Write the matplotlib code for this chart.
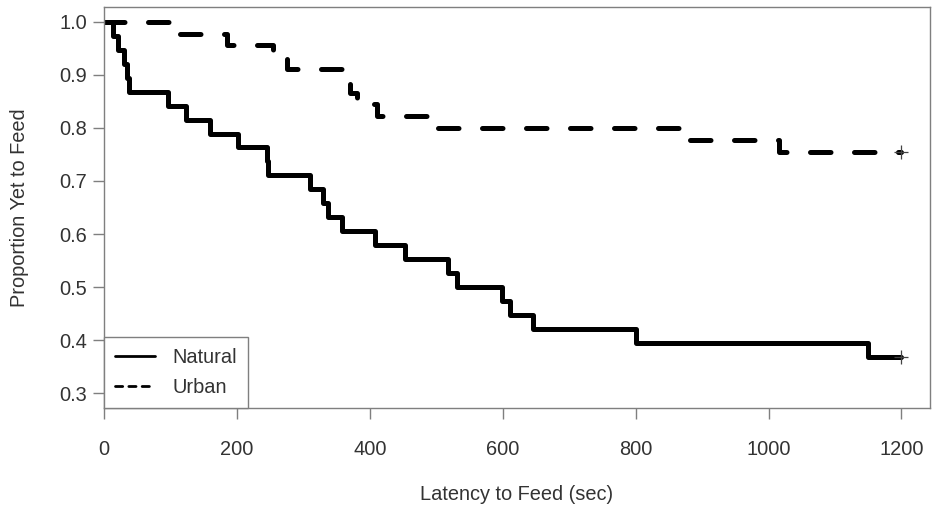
import numpy as np
import matplotlib.pyplot as plt

plt.rcParams['font.family'] = ['Liberation Sans', 'DejaVu Sans']

# Kaplan-Meier event times (sec) and survival after each event
natural_t = [14, 21, 30, 35, 37, 96, 123, 160, 202, 245, 247, 310, 330, 337,
             358, 408, 453, 518, 531, 599, 611, 646, 800, 1149]
natural_n = 38
urban_t = [110, 185, 254, 276, 360, 370, 380, 411, 494, 867, 1015]
urban_n = 45
end_time = 1200  # censored at end of trial

xticks = [0, 200, 400, 600, 800, 1000, 1200]
yticks = [0.3, 0.4, 0.5, 0.6, 0.7, 0.8, 0.9, 1.0]


def km_curve(times, n):
    surv = [1.0 - (i + 1) / n for i in range(len(times))]
    x = [0] + list(times) + [end_time]
    y = [1.0] + surv + [surv[-1]]
    return x, y


grey = '#7f7f7f'
txt = '#333333'
fs = 14.4

fig = plt.figure(figsize=(9.32, 5.12), dpi=100)
ax = fig.add_axes([0.1116, 0.2031, 0.8863, 0.7832])

nx, ny = km_curve(natural_t, natural_n)
ux, uy = km_curve(urban_t, urban_n)

ax.step(nx, ny, where='post', color='black', lw=3.6, solid_joinstyle='round',
        solid_capstyle='round', label='Natural')
ax.step(ux, uy, where='post', color='black', lw=3.6, linestyle=(0, (4.1, 4.7)),
        dash_capstyle='round', dash_joinstyle='round', label='Urban')

# censoring marks
ax.plot([end_time, end_time], [ny[-1], uy[-1]], linestyle='none', marker='+',
        markersize=10, mew=0.9, color='#444444', zorder=5)

ax.set_xlim(0, 1243)
ax.set_ylim(0.272, 1.028)
ax.set_xticks(xticks)
ax.set_xticklabels([str(v) for v in xticks])
ax.set_yticks(yticks)
ax.set_yticklabels(['%.1f' % v for v in yticks])

for s in ax.spines.values():
    s.set_color(grey)
    s.set_linewidth(1.0)
ax.tick_params(colors=grey, labelcolor=txt, labelsize=fs, length=8, width=1.0)
ax.tick_params(axis='x', pad=15)
ax.tick_params(axis='y', pad=4)

ax.set_xlabel('Latency to Feed (sec)', fontsize=fs, color=txt, labelpad=19)
ax.set_ylabel('Proportion Yet to Feed', fontsize=fs, color=txt, labelpad=22)

leg = ax.legend(loc='lower left', bbox_to_anchor=(0, 0), borderaxespad=0,
                fancybox=False, edgecolor=grey, fontsize=fs, handlelength=2.0,
                handletextpad=0.85, borderpad=0.55, labelspacing=0.55,
                framealpha=1)
leg.get_frame().set_linewidth(1.0)
for h in leg.get_lines():
    h.set_linewidth(2.0)
    if h.get_linestyle() != '-':
        h.set_dashes((2.6, 2.2))
for t in leg.get_texts():
    t.set_color(txt)

fig.savefig('out.png', dpi=100)
